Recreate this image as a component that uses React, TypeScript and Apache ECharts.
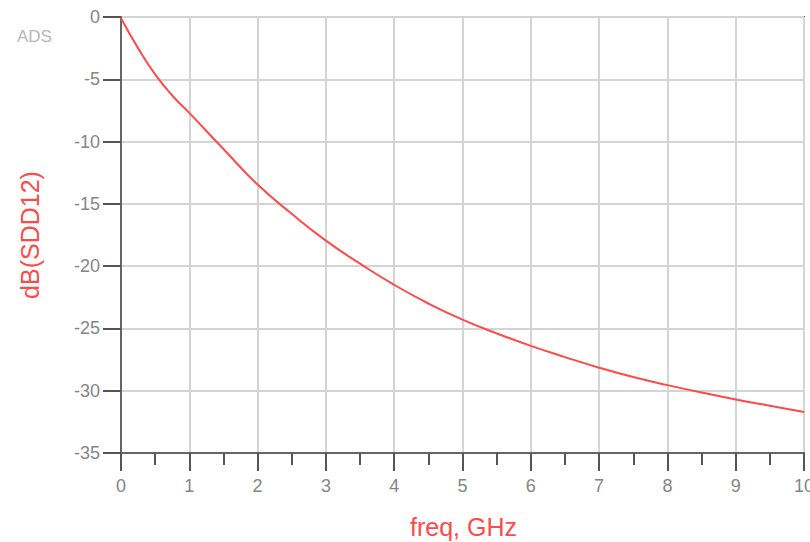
import React, { useEffect, useRef } from "react";
import * as echarts from "echarts";

const freqGHz = [0, 0.25, 0.5, 0.75, 1, 1.5, 2, 2.5, 3, 3.5, 4, 4.5, 5, 5.5, 6, 6.5, 7, 7.5, 8, 8.5, 9, 9.5, 10];
const sdd12dB = [-0.1, -2.5, -4.6, -6.3, -7.7, -10.6, -13.45, -15.8, -17.95, -19.8, -21.5, -23.0, -24.3, -25.4, -26.4, -27.3, -28.15, -28.9, -29.55, -30.15, -30.7, -31.2, -31.7];
const yTicks = { min: -35, max: 0, interval: 5 };
const xTicks = { min: 0, max: 10, interval: 1 };

export default function App() {
  const ref = useRef<HTMLDivElement>(null);
  useEffect(() => {
    if (!ref.current) return;
    const chart = echarts.init(ref.current, null, { renderer: "svg" });
    const font = "'Liberation Sans', Arial, sans-serif";
    chart.setOption({
      animation: false,
      backgroundColor: "#ffffff",
      textStyle: { fontFamily: font },
      grid: {
        left: 121,
        top: 17,
        right: 6,
        bottom: 89,
        outerBoundsMode: "none",
        containLabel: false,
        show: true,
        borderColor: "#666666",
        borderWidth: 2,
        backgroundColor: "transparent",
      },
      graphic: [
        {
          type: "text",
          left: 17,
          top: 28,
          style: { text: "ADS", fill: "#b8b8b8", font: `17px ${font}` },
        },
        {
          type: "text",
          left: 410,
          top: 514,
          style: { text: "freq, GHz", fill: "#ff4a4a", font: `25px ${font}` },
        },
      ],
      xAxis: {
        type: "value",
        min: xTicks.min,
        max: xTicks.max,
        interval: xTicks.interval,
        axisLine: { show: true, onZero: false, lineStyle: { color: "#666666", width: 2 } },
        axisTick: { show: true, length: 18, lineStyle: { color: "#555555", width: 2 } },
        minorTick: { show: true, splitNumber: 2, length: 12, lineStyle: { color: "#555555", width: 2 } },
        splitLine: { show: true, lineStyle: { color: "#d4d4d4", width: 2 } },
        axisLabel: { color: "#858585", fontSize: 18, margin: 24, fontFamily: font },
      },
      yAxis: {
        type: "value",
        min: yTicks.min,
        max: yTicks.max,
        interval: yTicks.interval,
        name: "dB(SDD12)",
        nameLocation: "middle",
        nameGap: 79,
        nameRotate: 90,
        nameTextStyle: { color: "#ff4a4a", fontSize: 25, fontFamily: font },
        axisLine: { show: true, onZero: false, lineStyle: { color: "#666666", width: 2 } },
        axisTick: { show: true, length: 18, lineStyle: { color: "#555555", width: 2 } },
        splitLine: { show: true, lineStyle: { color: "#d4d4d4", width: 2 } },
        axisLabel: { color: "#858585", fontSize: 18, margin: 21, fontFamily: font },
      },
      series: [
        {
          type: "line",
          data: freqGHz.map((f, i) => [f, sdd12dB[i]]),
          smooth: 0.5,
          showSymbol: false,
          clip: false,
          lineStyle: { color: "#ff4a4a", width: 2 },
        },
      ],
    });
    return () => chart.dispose();
  }, []);
  return (
    <div
      ref={ref}
      style={{ position: "absolute", left: 0, top: 0, width: 810, height: 542 }}
    />
  );
}
